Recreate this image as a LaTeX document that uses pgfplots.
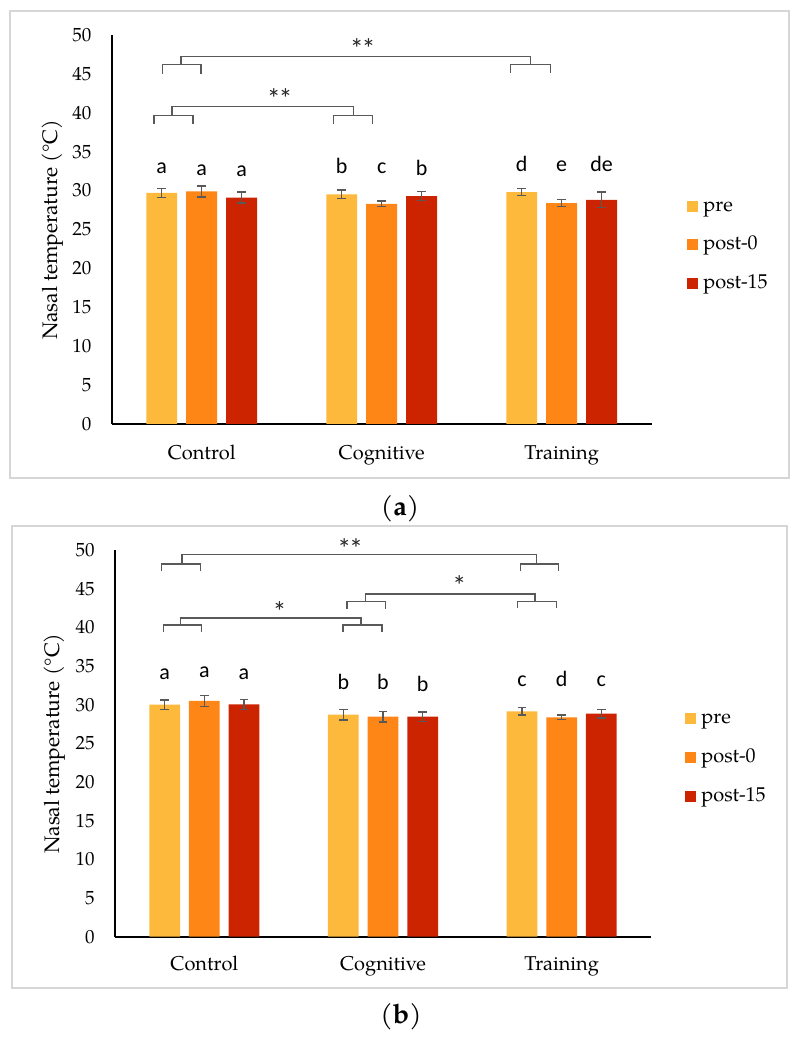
\documentclass[border=0pt]{standalone}
\usepackage{pgfplots}
\pgfplotsset{compat=1.18}
\usepackage{fontspec}
\setmainfont{TeX Gyre Pagella}
\newfontfamily\calib{Carlito}
\definecolor{cpre}{HTML}{FDB93B}
\definecolor{cpostA}{HTML}{FD8616}
\definecolor{cpostB}{HTML}{CC2400}
\definecolor{ebar}{HTML}{595959}
\definecolor{framegray}{HTML}{D6D6D6}

\tikzset{
 br/.style={ebar, line width=0.6pt},
 lt/.style={font=\calib\fontsize{11}{13}\selectfont, anchor=base, inner sep=0pt},
 st/.style={font=\calib\fontsize{14}{16}\selectfont, anchor=base, inner sep=0pt, text=black!85},
}
\pgfplotsset{
 panel/.style={
  scale only axis,
  axis lines*=left,
  axis line style={black, line width=0.9pt},
  xmin=-0.5, xmax=2.5, ymin=0, ymax=50,
  ytick={0,5,...,50},
  xtick={0,1,2},
  xticklabels={Control,Cognitive,Training},
  major tick length=0pt,
  /pgf/number format/assume math mode=true,
  yticklabel style={anchor=east, inner sep=0pt, xshift=-10pt, font=\fontsize{9.5}{11}\selectfont},
  xticklabel style={anchor=base, inner sep=0pt, font=\fontsize{10}{12}\selectfont},
  ylabel={Nasal temperature (°C)},
  ylabel style={font=\fontsize{10.5}{12}\selectfont, anchor=center},
  clip=false,
  error bars/y dir=both,
  error bars/y explicit,
  error bars/error bar style={ebar, line width=0.7pt},
  error bars/error mark options={ebar, line width=0.7pt, mark size=2.2pt, rotate=90},
  legend cell align=left,
  legend style={draw=none, fill=none, font=\fontsize{10}{12}\selectfont,
    inner sep=0pt, anchor=north west, column sep=2.5pt,
    nodes={inner sep=0pt, text height=7pt, text depth=2pt}},
 },
 barA/.style={ybar, bar width=0.172, bar shift=0pt, draw=none, fill=#1,
   legend image code/.code={\fill[#1] (0pt,-2.75pt) rectangle (5.5pt,2.75pt);}},
}
\newcommand{\dstar}{*\kern-0.08em*}

\begin{document}
\begin{tikzpicture}
\path (0pt,0pt) rectangle (398.5pt,521pt);
% frames
\draw[framegray, line width=0.9pt] (5pt,282pt) rectangle (394.5pt,515.5pt);
\draw[framegray, line width=0.9pt] (6pt,27pt) rectangle (393.5pt,258pt);

% ---------------- panel (a)
\begin{axis}[panel, at={(55.85pt,309pt)}, anchor=south west,
  width=270pt, height=194.5pt,
  xticklabel style={yshift=-18pt},
  ylabel style={at={(axis description cs:-0.109,0.5)}},
  legend style={at={(axis description cs:1.0654,0.5835)}, row sep=10.25pt}]
\addplot[barA=cpre] coordinates {(-0.222,29.7) +- (0,0.6) (0.778,29.5) +- (0,0.55) (1.778,29.8) +- (0,0.45)};
\addplot[barA=cpostA] coordinates {(0,29.9) +- (0,0.7) (1,28.3) +- (0,0.35) (2,28.4) +- (0,0.45)};
\addplot[barA=cpostB] coordinates {(0.222,29.1) +- (0,0.7) (1.222,29.3) +- (0,0.55) (2.222,28.8) +- (0,1.0)};
\legend{pre,post-0,post-15}
% letters
\node[lt] at (axis cs:-0.222,32.2) {a};
\node[lt] at (axis cs:0,31.9) {a};
\node[lt] at (axis cs:0.222,31.8) {a};
\node[lt] at (axis cs:0.778,32.2) {b};
\node[lt] at (axis cs:1,32.2) {c};
\node[lt] at (axis cs:1.222,31.9) {b};
\node[lt] at (axis cs:1.778,32.5) {d};
\node[lt] at (axis cs:2,32.5) {e};
\node[lt] at (axis cs:2.222,32.5) {de};
% brackets
\draw[br] (axis cs:-0.220,45.0) |- (axis cs:-0.004,46.2) -- (axis cs:-0.004,45.0);
\draw[br] (axis cs:-0.115,46.2) |- (axis cs:1.825,47.2) -- (axis cs:1.825,46.2);
\draw[br] (axis cs:1.714,45.1) |- (axis cs:1.936,46.2) -- (axis cs:1.936,45.1);
\node[st] at (axis cs:0.895,47.0) {\dstar};
\draw[br] (axis cs:-0.265,38.6) |- (axis cs:-0.048,39.6) -- (axis cs:-0.048,38.6);
\draw[br] (axis cs:-0.165,39.6) |- (axis cs:0.845,40.8) -- (axis cs:0.845,39.6);
\draw[br] (axis cs:0.734,38.6) |- (axis cs:0.950,39.6) -- (axis cs:0.950,38.6);
\node[st] at (axis cs:0.434,40.5) {\dstar};
\end{axis}

% ---------------- panel (b)
\begin{axis}[panel, at={(57.5pt,52.65pt)}, anchor=south west,
  width=268pt, height=193.35pt,
  xticklabel style={yshift=-16.7pt},
  ylabel style={at={(axis description cs:-0.112,0.5)}},
  legend style={at={(axis description cs:1.0634,0.589)}, row sep=10.5pt}]
\addplot[barA=cpre] coordinates {(-0.222,30.0) +- (0,0.6) (0.778,28.7) +- (0,0.7) (1.778,29.15) +- (0,0.5)};
\addplot[barA=cpostA] coordinates {(0,30.5) +- (0,0.7) (1,28.45) +- (0,0.7) (2,28.35) +- (0,0.3)};
\addplot[barA=cpostB] coordinates {(0.222,30.05) +- (0,0.65) (1.222,28.45) +- (0,0.6) (2.222,28.85) +- (0,0.55)};
\legend{pre,post-0,post-15}
\node[lt] at (axis cs:-0.222,33.2) {a};
\node[lt] at (axis cs:0,33.5) {a};
\node[lt] at (axis cs:0.222,33.2) {a};
\node[lt] at (axis cs:0.778,31.9) {b};
\node[lt] at (axis cs:1,31.9) {b};
\node[lt] at (axis cs:1.222,31.7) {b};
\node[lt] at (axis cs:1.778,32.3) {c};
\node[lt] at (axis cs:2,32.3) {d};
\node[lt] at (axis cs:2.222,32.3) {c};
% brackets
\draw[br] (axis cs:-0.240,47.25) |- (axis cs:-0.022,48.2) -- (axis cs:-0.022,47.25);
\draw[br] (axis cs:-0.125,48.2) |- (axis cs:1.861,49.4) -- (axis cs:1.861,48.2);
\draw[br] (axis cs:1.768,47.3) |- (axis cs:1.982,48.2) -- (axis cs:1.982,47.3);
\node[st] at (axis cs:0.817,48.9) {\dstar};
\draw[br] (axis cs:0.798,42.4) |- (axis cs:1.012,43.3) -- (axis cs:1.012,42.4);
\draw[br] (axis cs:0.900,43.3) |- (axis cs:1.851,44.3) -- (axis cs:1.851,43.3);
\draw[br] (axis cs:1.755,42.5) |- (axis cs:1.973,43.3) -- (axis cs:1.973,42.5);
\node[st] at (axis cs:1.427,44.1) {*};
\draw[br] (axis cs:-0.228,39.4) |- (axis cs:-0.017,40.3) -- (axis cs:-0.017,39.4);
\draw[br] (axis cs:-0.134,40.3) |- (axis cs:0.877,41.2) -- (axis cs:0.877,40.3);
\draw[br] (axis cs:0.776,39.4) |- (axis cs:0.994,40.3) -- (axis cs:0.994,39.4);
\node[st] at (axis cs:0.421,40.8) {*};
\end{axis}

% captions
\node[font=\fontsize{13.5}{15}\selectfont, inner sep=0pt] at (200pt,266.5pt) {({\bfseries a})};
\node[font=\fontsize{13.5}{15}\selectfont, inner sep=0pt] at (200.5pt,12.75pt) {({\bfseries b})};
\end{tikzpicture}
\end{document}
